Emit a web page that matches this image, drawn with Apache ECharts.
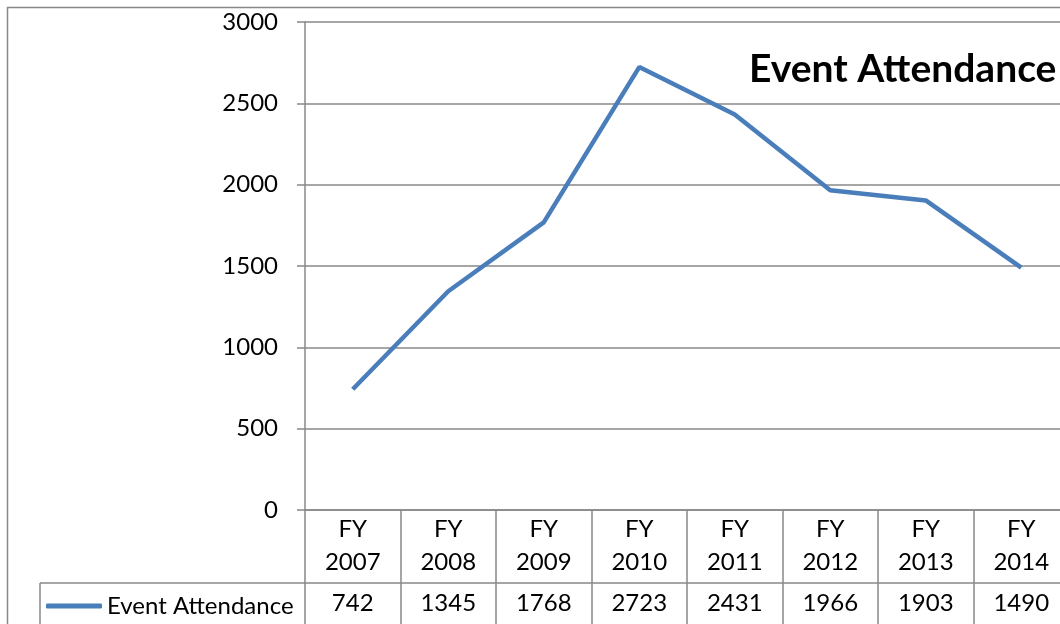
<!DOCTYPE html>
<html>
<head>
<meta charset="utf-8">
<script src="https://cdn.jsdelivr.net/npm/echarts@6/dist/echarts.min.js"></script>
<style>
html,body{margin:0;padding:0;background:#fff;}
#chart{width:1060px;height:624px;}
</style>
</head>
<body>
<div id="chart"></div>
<script>
const categories = ['FY\n2007','FY\n2008','FY\n2009','FY\n2010','FY\n2011','FY\n2012','FY\n2013','FY\n2014'];
const seriesName = 'Event Attendance';
const attendance = [742, 1345, 1768, 2723, 2431, 1966, 1903, 1490];
const yTicks = [0, 500, 1000, 1500, 2000, 2500, 3000];

const FONT = 'Lato, "Open Sans", sans-serif';
const GREY = '#888888';
const LINE = '#4A7EBB';

const chart = echarts.init(document.getElementById('chart'), null, {renderer: 'canvas'});
chart.setOption({
  animation: false,
  backgroundColor: '#fff',
  title: {
    text: 'Event Attendance',
    left: 744,
    top: 45,
    textStyle: {fontFamily: FONT, fontSize: 39, fontWeight: 'bold', color: '#000'}
  },
  legend: {
    data: [seriesName],
    left: 41,
    top: 589,
    icon: 'roundRect',
    itemWidth: 56,
    itemHeight: 5,
    textStyle: {fontFamily: FONT, fontSize: 24, color: '#000'}
  },
  grid: {left: 305, top: 22, width: 764, bottom: 114, containLabel: false, outerBoundsMode: 'none'},
  xAxis: [{
    type: 'category',
    data: categories,
    boundaryGap: true,
    position: 'bottom',
    axisLine: {show: true, lineStyle: {color: GREY, width: 1.5}},
    axisTick: {show: true, length: 73, lineStyle: {color: GREY, width: 1.5}},
    axisLabel: {fontFamily: FONT, fontSize: 24, color: '#000', lineHeight: 33, margin: 3, interval: 0}
  }, {
    type: 'category',
    data: categories,
    boundaryGap: true,
    position: 'bottom',
    offset: 73,
    axisLine: {show: true, lineStyle: {color: GREY, width: 1.5}},
    axisTick: {show: true, length: 60, lineStyle: {color: GREY, width: 1.5}},
    axisLabel: {fontFamily: FONT, fontSize: 24, color: '#000', lineHeight: 33, margin: 4, interval: 0,
      formatter: function (v, i) { return String(attendance[i]); }}
  }],
  yAxis: {
    type: 'value',
    min: yTicks[0],
    max: yTicks[yTicks.length - 1],
    interval: 500,
    axisLine: {show: true, lineStyle: {color: GREY, width: 1.5}},
    axisTick: {show: true, length: 8, lineStyle: {color: GREY, width: 1.5}},
    splitLine: {show: true, lineStyle: {color: GREY, width: 1.5}},
    axisLabel: {fontFamily: FONT, fontSize: 24, color: '#000', margin: 27,
      formatter: function (v) { return String(v); }}
  },
  graphic: [
    {type: 'rect', shape: {x: 7.5, y: 7.5, width: 1200, height: 800}, style: {fill: null, stroke: GREY, lineWidth: 1.5}, z: -1},
    {type: 'line', shape: {x1: 40, y1: 583, x2: 305, y2: 583}, style: {stroke: GREY, lineWidth: 1.5}},
    {type: 'line', shape: {x1: 40, y1: 583, x2: 40, y2: 640}, style: {stroke: GREY, lineWidth: 1.5}}
  ],
  series: [{
    name: seriesName,
    type: 'line',
    data: attendance,
    symbol: 'none',
    smooth: false,
    lineStyle: {color: LINE, width: 4.5},
    itemStyle: {color: LINE}
  }]
});
</script>
</body>
</html>
